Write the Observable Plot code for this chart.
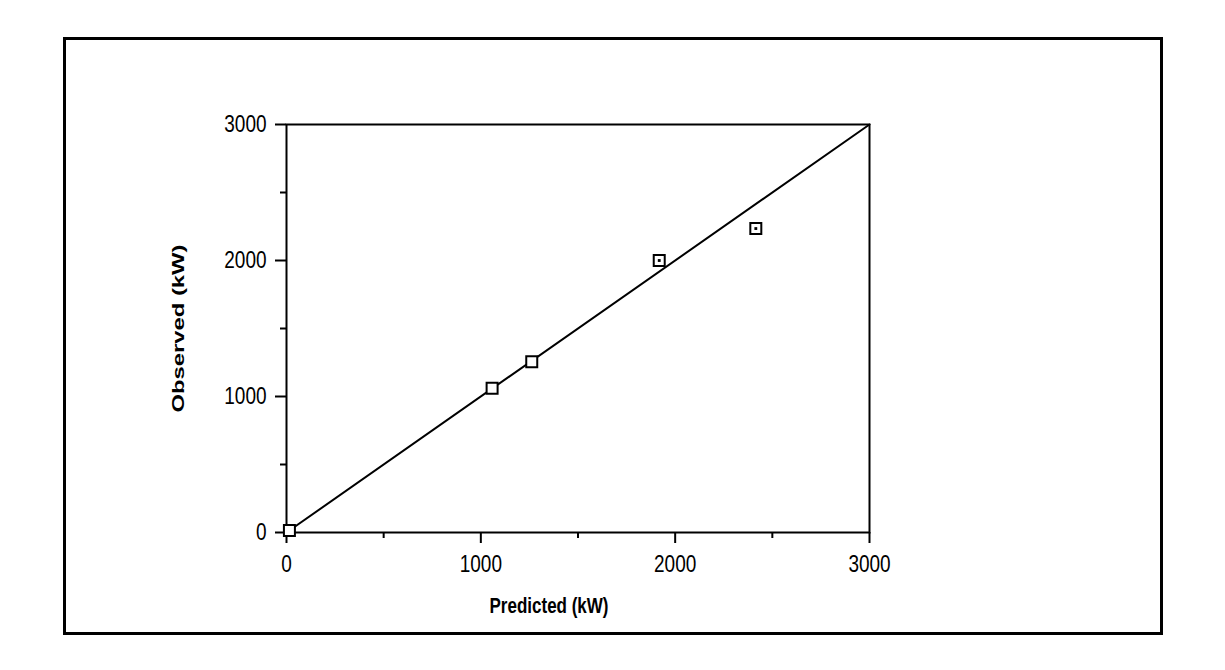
<!DOCTYPE html>
<html>
<head>
<meta charset="utf-8">
<script src="https://cdn.jsdelivr.net/npm/d3@7"></script>
<script src="https://cdn.jsdelivr.net/npm/@observablehq/plot@0.6"></script>
<style>
  html, body { margin: 0; padding: 0; background: #fff; }
  #wrap { position: relative; width: 1225px; height: 670px; }
  #frame { position: absolute; left: 63px; top: 37px; width: 1094px; height: 592px; border: 3px solid #000; pointer-events: none; }
  svg { font-family: "Liberation Sans", Arial, sans-serif; }
</style>
</head>
<body>
<div id="wrap"><div id="frame"></div></div>
<script>
// Data
const predicted = [15, 1058, 1262, 1918, 2415];
const observed  = [15, 1060, 1255, 2000, 2235];
const majorTicks = [0, 1000, 2000, 3000];
const minorTicks = [500, 1500, 2500];
const lineX = [0, 3000];
const lineY = [0, 3000];
const xTitle = "Predicted (kW)";
const yTitle = "Observed (kW)";

const points = predicted.map((p, i) => ({p, o: observed[i]}));
const line = lineX.map((x, i) => ({x, y: lineY[i]}));
const fmt = d3.format("d");

const chart = Plot.plot({
  width: 1225,
  height: 670,
  marginLeft: 286,
  marginRight: 356,
  marginTop: 124,
  marginBottom: 138,
  style: {fontFamily: "Liberation Sans, Arial, sans-serif", fontSize: "19px", background: "transparent", overflow: "visible"},
  x: {domain: [0, 3000]},
  y: {domain: [0, 3000]},
  marks: [
    Plot.frame({stroke: "#000", strokeWidth: 2}),
    Plot.axisX(majorTicks, {tickSize: 11, tickPadding: 11, strokeWidth: 2, fontSize: 19, label: null, fill: "#000", tickFormat: fmt}),
    Plot.axisX(minorTicks, {tickSize: 6, text: null, strokeWidth: 2, label: null}),
    Plot.axisY(majorTicks, {tickSize: 11, tickPadding: 9, strokeWidth: 2, fontSize: 19, label: null, fill: "#000", tickFormat: fmt}),
    Plot.axisY(minorTicks, {tickSize: 6, text: null, strokeWidth: 2, label: null}),
    Plot.line(line, {x: "x", y: "y", stroke: "#000", strokeWidth: 2}),
    Plot.dot(points, {x: "p", y: "o", symbol: "square", r: 6.2, stroke: "#000", strokeWidth: 2, fill: "#fff"}),
    Plot.dot(points.slice(3), {x: "p", y: "o", symbol: "square", r: 1.6, fill: "#000"}),
    Plot.text([xTitle], {frameAnchor: "bottom", textAnchor: "middle", dx: -29, dy: 80, fontWeight: "bold", fontSize: 17, fill: "#000"}),
    Plot.text([yTitle], {frameAnchor: "left", textAnchor: "middle", dx: -108, rotate: -90, fontWeight: "bold", fontSize: 17, fill: "#000"})
  ]
});
// the reference's lettering is drawn taller than wide: stretch each text vertically
chart.querySelectorAll("text").forEach(t => {
  const tr = t.getAttribute("transform");
  if (!tr) return;
  if (tr.includes("rotate")) t.setAttribute("transform", tr.replace("rotate", "scale(1,1.4) rotate"));
  else t.setAttribute("transform", tr + " scale(1,1.3)");
});
chart.style.position = "absolute";
chart.style.left = "0";
chart.style.top = "0";
document.getElementById("wrap").appendChild(chart);
</script>
</body>
</html>
